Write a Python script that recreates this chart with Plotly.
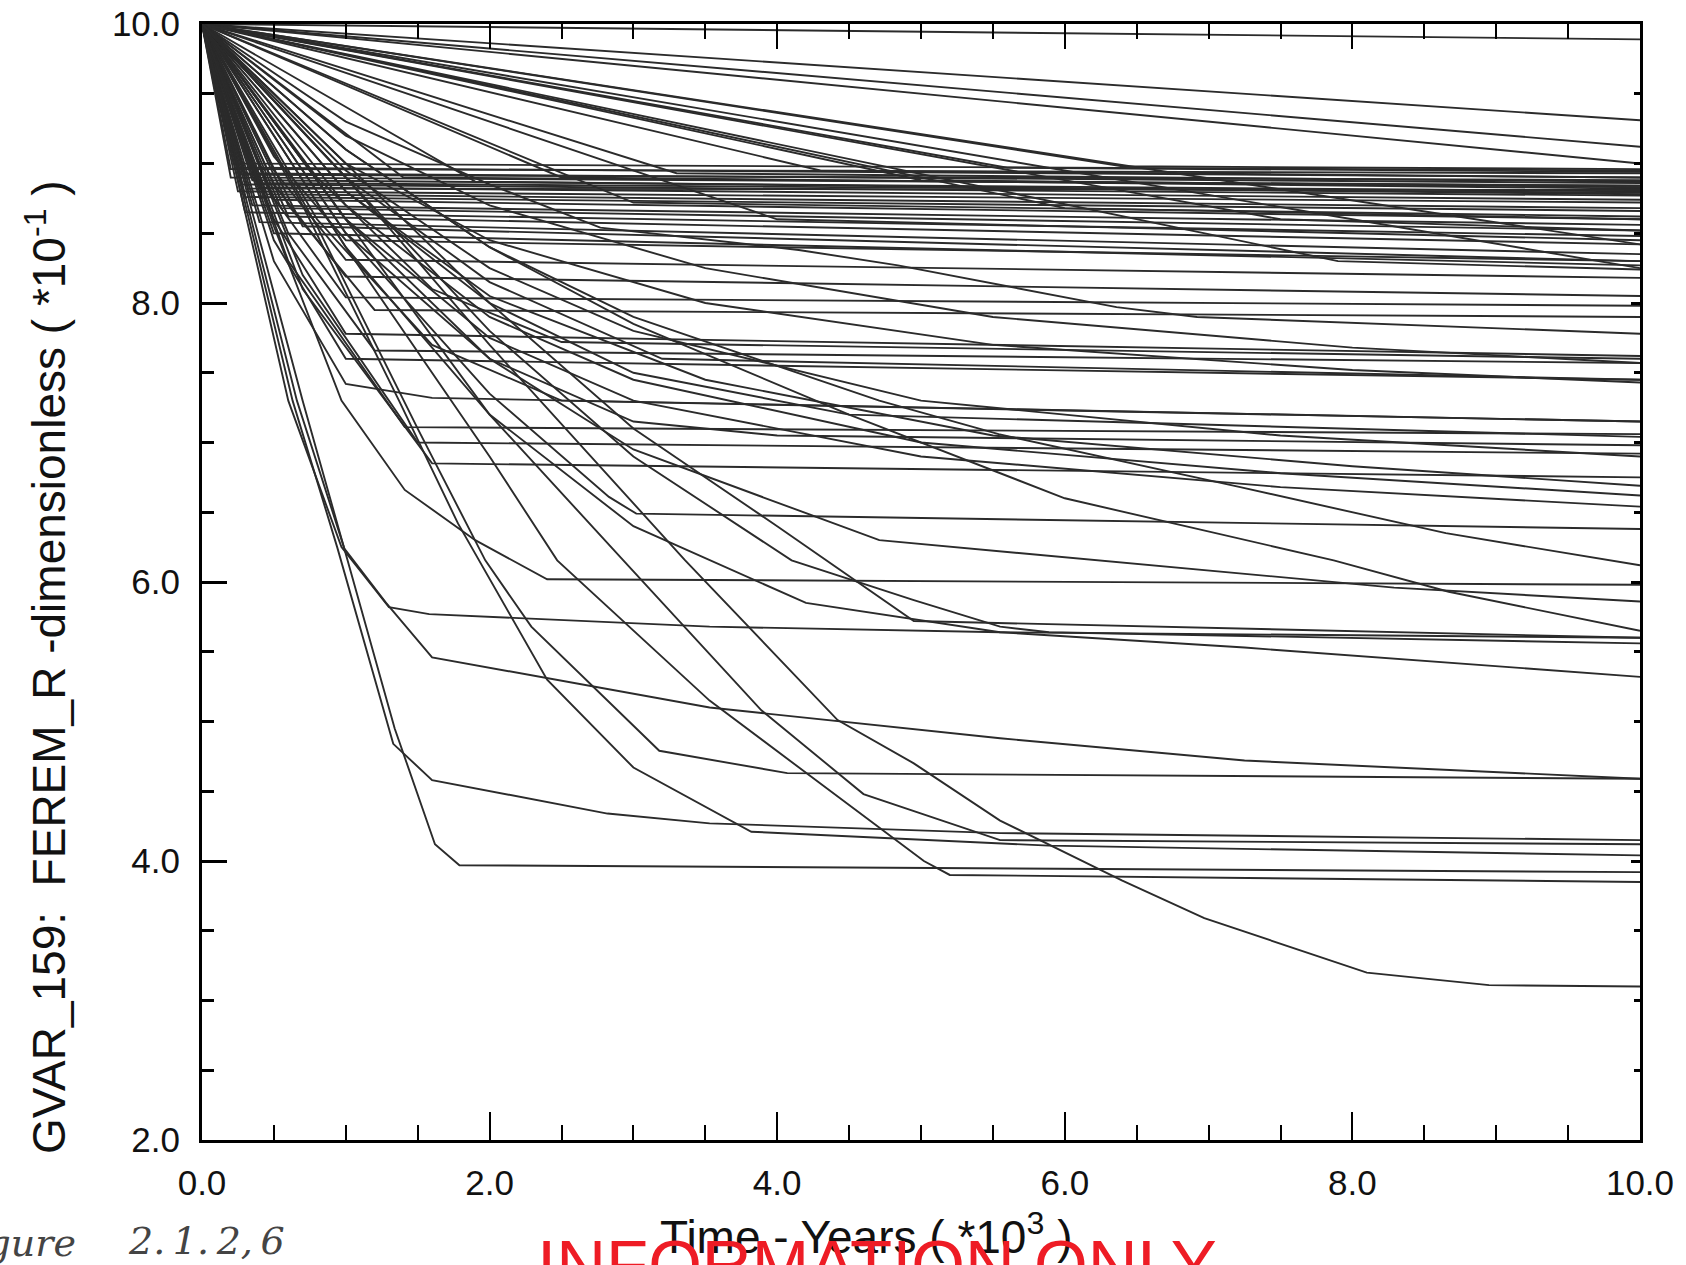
import plotly.graph_objects as go

# ---------------- data: vertices (time [1e3 yr], FEREM_R [1e-1]) ----------------
# straight fan from the origin (some level off in the 8.5-9.0 band)
fan_curves = [
    [[0, 10], [10, 9.89]],
    [[0, 10], [10, 9.31]],
    [[0, 10], [10, 9.12]],
    [[0, 10], [10, 9.0]],
    [[0, 10], [6.4, 8.98], [10, 8.96]],
    [[0, 10], [5.6, 8.97], [10, 8.94]],
    [[0, 10], [4.3, 8.95], [10, 8.9]],
    [[0, 10], [3.3, 8.93], [10, 8.87]],
    [[0, 10], [2.5, 8.9], [10, 8.82]],
    [[0, 10], [1.9, 8.87], [10, 8.78]],
    [[0, 10], [1.4, 8.9], [10, 8.84]],
    [[0, 10], [7.5, 8.6], [10, 8.52]],
    [[0, 10], [6.0, 8.68], [10, 8.6]],
    [[0, 10], [10, 8.42]],
    [[0, 10], [10, 8.25]],
    [[0, 10], [7.9, 8.3], [10, 8.24]],
    [[0, 10], [4.0, 8.6], [10, 8.45]],
    [[0, 10], [3.0, 8.72], [10, 8.62]],
    [[0, 10], [5.0, 8.88], [10, 8.83]],
]

# fast drop into the dense band near 8.5 - 9.0
band_curves = [
    [[0, 10], [0.22, 9.0], [10, 8.95]],
    [[0, 10], [0.25, 8.97], [10, 8.9]],
    [[0, 10], [0.3, 8.93], [10, 8.86]],
    [[0, 10], [0.2, 8.9], [10, 8.84]],
    [[0, 10], [0.35, 8.88], [10, 8.8]],
    [[0, 10], [0.28, 8.85], [10, 8.77]],
    [[0, 10], [0.4, 8.83], [10, 8.74]],
    [[0, 10], [0.25, 8.8], [10, 8.72]],
    [[0, 10], [0.45, 8.78], [10, 8.68]],
    [[0, 10], [0.3, 8.76], [10, 8.66]],
    [[0, 10], [0.5, 8.74], [10, 8.6]],
    [[0, 10], [0.35, 8.7], [10, 8.56]],
    [[0, 10], [0.55, 8.68], [10, 8.52]],
    [[0, 10], [0.3, 8.65], [10, 8.48]],
    [[0, 10], [0.6, 8.62], [10, 8.42]],
    [[0, 10], [0.4, 8.58], [10, 8.35]],
    [[0, 10], [0.7, 8.55], [10, 8.3]],
    [[0, 10], [0.5, 8.5], [10, 8.27]],
    [[0, 10], [0.2, 8.96], [10, 8.93]],
    [[0, 10], [0.32, 8.82], [10, 8.81]],
    [[0, 10], [0.27, 8.92], [10, 8.88]],
    [[0, 10], [0.38, 8.86], [10, 8.79]],
]

# early knee (t ~ 0.5-1.6) then slow decline
mid_curves = [
    [[0, 10], [0.5, 9.05], [1.0, 8.45], [10, 8.3]],
    [[0, 10], [0.5, 8.95], [1.0, 8.31], [10, 8.18]],
    [[0, 10], [0.5, 8.85], [1.0, 8.19], [10, 8.05]],
    [[0, 10], [0.5, 8.75], [1.0, 8.04], [10, 7.98]],
    [[0, 10], [0.6, 8.7], [1.2, 7.95], [10, 7.9]],
    [[0, 10], [0.5, 8.6], [1.0, 7.78], [10, 7.62]],
    [[0, 10], [0.6, 8.5], [1.2, 7.66], [10, 7.57]],
    [[0, 10], [0.5, 8.45], [1.0, 7.6], [10, 7.45]],
    [[0, 10], [0.5, 8.3], [1.0, 7.42], [1.6, 7.32], [10, 7.15]],
    [[0, 10], [0.6, 8.3], [1.41, 7.11], [10, 7.06]],
    [[0, 10], [0.7, 8.2], [1.5, 7.0], [10, 6.92]],
    [[0, 10], [0.7, 8.1], [1.6, 6.85], [10, 6.75]],
    [[0, 10], [0.8, 8.6], [1.6, 7.7], [2.5, 7.3], [10, 7.15]],
    [[0, 10], [1.0, 8.5], [2.0, 7.6], [3.0, 7.15], [4.0, 7.05], [10, 6.98]],
    [[0, 10], [1.0, 8.8], [2.0, 8.0], [3.0, 7.5], [4.5, 7.2], [10, 7.04]],
    [[0, 10], [1.0, 8.9], [2.0, 8.15], [3.2, 7.6], [10, 7.45]],
    [[0, 10], [0.8, 8.9], [1.6, 8.1], [2.5, 7.72], [10, 7.6]],
]

# long convex curves reaching mid levels at t = 10
slow_curves = [
    [[0, 10], [1, 9.3], [2, 8.85], [2.77, 8.54], [4.15, 8.38], [4.84, 8.27], [6.36, 7.97], [6.92, 7.9], [10, 7.78]],
    [[0, 10], [1, 9.2], [2, 8.7], [3.5, 8.25], [5.5, 7.9], [8, 7.68], [10, 7.57]],
    [[0, 10], [1, 9.0], [2, 8.45], [3.5, 8.0], [5.5, 7.7], [8, 7.52], [10, 7.43]],
    [[0, 10], [1, 8.95], [2, 8.25], [3, 7.8], [5, 7.3], [7.5, 7.05], [10, 6.9]],
    [[0, 10], [1, 8.8], [2, 8.05], [3.5, 7.45], [5.5, 7.05], [8, 6.83], [10, 6.69]],
    [[0, 10], [1, 8.7], [2, 7.9], [3, 7.45], [5, 7.0], [7.5, 6.78], [10, 6.62]],
    [[0, 10], [1, 8.6], [2, 7.75], [3, 7.3], [5, 6.9], [7.5, 6.68], [10, 6.54]],
    [[0, 10], [1, 9.1], [2, 8.4], [3, 7.9], [4.71, 7.3], [5.54, 7.06], [7.22, 6.68], [8.65, 6.35], [10, 6.12]],
    [[0, 10], [1, 8.6], [2, 7.6], [3, 6.95], [4.71, 6.3], [6.5, 6.13], [8.29, 5.96], [10, 5.86]],
    [[0, 10], [1, 9.1], [2, 8.4], [3, 7.85], [4.5, 7.2], [6, 6.6], [7.87, 6.155], [8.67, 5.93], [10, 5.65]],
    [[0, 10], [1, 8.4], [2, 7.2], [3, 6.4], [4.2, 5.85], [5.55, 5.64], [7.25, 5.53], [10, 5.32]],
    [[0, 10], [1, 8.5], [2, 7.35], [2.83, 6.61], [3.02, 6.49], [10, 6.38]],
]

# steep early drops and diagonal curves that flatten at low levels
low_curves = [
    [[0, 10], [0.7, 7.3], [1.0, 6.2], [1.34, 4.95], [1.62, 4.12], [1.79, 3.97], [10, 3.92]],
    [[0, 10], [0.63, 7.3], [0.94, 6.25], [1.33, 4.84], [1.6, 4.58], [2.82, 4.34], [3.53, 4.27], [5.55, 4.2], [10, 4.15]],
    [[0, 10], [0.6, 7.3], [0.97, 6.25], [1.3, 5.82], [1.58, 5.77], [3.53, 5.68], [5.55, 5.64], [10, 5.6]],
    [[0, 10], [0.66, 7.3], [0.99, 6.24], [1.28, 5.85], [1.6, 5.46], [3.53, 5.1], [5.55, 4.88], [7.25, 4.72], [10, 4.59]],
    [[0, 10], [0.5, 8.55], [0.97, 7.3], [1.41, 6.66], [1.9, 6.3], [2.4, 6.02], [10, 5.98]],
    [[0, 10], [0.7, 8.7], [1.37, 7.3], [1.78, 6.42], [2.4, 5.3], [3.0, 4.67], [3.82, 4.21], [5.89, 4.11], [10, 4.04]],
    [[0, 10], [0.8, 8.55], [1.5, 7.1], [1.97, 6.155], [2.29, 5.68], [3.18, 4.79], [4.07, 4.63], [10, 4.59]],
    [[0, 10], [1, 8.4], [2, 6.9], [2.47, 6.155], [3.53, 5.15], [4.24, 4.6], [5.02, 4.0], [5.2, 3.9], [10, 3.85]],
    [[0, 10], [1, 8.6], [2, 7.2], [2.93, 6.155], [3.89, 5.08], [4.6, 4.48], [5.55, 4.15], [10, 4.12]],
    [[0, 10], [1, 8.9], [2, 7.7], [3.36, 6.155], [4.42, 5.01], [4.95, 4.7], [5.55, 4.29], [6.4, 3.86],
     [6.97, 3.59], [8.1, 3.2], [8.95, 3.11], [10, 3.1]],
    [[0, 10], [1, 8.9], [2, 7.8], [3, 6.9], [4.1, 6.155], [4.95, 5.87], [5.55, 5.68], [5.89, 5.64], [10, 5.56]],
    [[0, 10], [1, 9.0], [2, 8.0], [3, 7.1], [4.0, 6.4], [4.95, 5.72], [10, 5.6]],
]

x_tick_vals = [0, 2, 4, 6, 8, 10]
x_tick_text = ["0.0", "2.0", "4.0", "6.0", "8.0", "10.0"]
y_tick_vals = [2, 4, 6, 8, 10]
y_tick_text = ["2.0", "4.0", "6.0", "8.0", "10.0"]

# ---------------- figure ----------------
W, H = 1686, 1265
ML, MR, MT, MB = 202, 46, 24, 125
PW, PH = W - ML - MR, H - MT - MB

LINE_COLOR = "#2b2b2b"
fig = go.Figure()
for group in (fan_curves, band_curves, mid_curves, slow_curves, low_curves):
    for curve in group:
        fig.add_trace(go.Scatter(
            x=[p[0] for p in curve], y=[p[1] for p in curve],
            mode="lines", line=dict(color=LINE_COLOR, width=1.9),
            showlegend=False, hoverinfo="skip"))

# helper trace so the mirrored (top / right) axes are drawn
fig.add_trace(go.Scatter(x=[0], y=[10], xaxis="x2", yaxis="y2", mode="markers",
                         marker=dict(opacity=0), showlegend=False, hoverinfo="skip"))

TICK_FONT = dict(family="Liberation Sans, Arial, sans-serif", size=35, color="#111")
minor_x = dict(ticks="inside", ticklen=15, tickwidth=2, tickcolor="black", dtick=0.5, tick0=0)
minor_y = dict(ticks="inside", ticklen=12, tickwidth=2.5, tickcolor="black", dtick=0.5, tick0=0)

fig.update_layout(
    width=W, height=H,
    margin=dict(l=ML, r=MR, t=MT, b=MB, autoexpand=False),
    paper_bgcolor="white", plot_bgcolor="white",
    xaxis=dict(range=[0, 10], tickvals=x_tick_vals, ticktext=x_tick_text,
               ticks="inside", ticklen=28, tickwidth=2, tickcolor="black",
               minor=minor_x, showgrid=False, zeroline=False,
               showline=True, linecolor="black", linewidth=3,
               tickfont=TICK_FONT, ticklabelstandoff=10),
    yaxis=dict(range=[2, 10], tickvals=y_tick_vals, ticktext=y_tick_text,
               ticks="inside", ticklen=25, tickwidth=2.5, tickcolor="black",
               minor=minor_y, showgrid=False, zeroline=False,
               showline=True, linecolor="black", linewidth=3,
               tickfont=TICK_FONT, ticklabelstandoff=12),
    xaxis2=dict(range=[0, 10], overlaying="x", side="top", tickvals=[2, 4, 6, 8],
                ticks="inside", ticklen=25, tickwidth=2, tickcolor="black",
                minor=dict(ticks="inside", ticklen=15, tickwidth=2, tickcolor="black", dtick=0.5, tick0=0),
                showticklabels=False, showgrid=False, zeroline=False,
                showline=True, linecolor="black", linewidth=3),
    yaxis2=dict(range=[2, 10], overlaying="y", side="right", tickvals=y_tick_vals,
                ticks="inside", ticklen=9, tickwidth=3, tickcolor="black",
                minor=dict(ticks="inside", ticklen=6, tickwidth=2.5, tickcolor="black", dtick=0.5, tick0=0),
                showticklabels=False, showgrid=False, zeroline=False,
                showline=True, linecolor="black", linewidth=3),
)

def px_to_paper(x, y):
    return (x - ML) / PW, 1 - (y - MT) / PH

TITLE_FONT = dict(family="Liberation Sans, Arial, sans-serif", size=46, color="#111")
annots = []
ax, ay = px_to_paper(46, 667)
annots.append(dict(text="GVAR_159:\u00a0\u00a0FEREM_R -dimensionless ( *10<sup>-1</sup> )",
                   x=ax, y=ay, xref="paper", yref="paper", textangle=-90,
                   showarrow=False, font=TITLE_FONT, xanchor="center", yanchor="middle"))
ax, ay = px_to_paper(866, 1234)
annots.append(dict(text="Time - Years ( *10<sup>3</sup> )", x=ax, y=ay, xref="paper", yref="paper",
                   showarrow=False, font=TITLE_FONT, xanchor="center", yanchor="middle"))
ax, ay = px_to_paper(877, 1224)
annots.append(dict(text="INFORMATION ONLY", x=ax, y=ay, xref="paper", yref="paper",
                   showarrow=False, xanchor="center", yanchor="top",
                   font=dict(family="Liberation Sans, Arial, sans-serif", size=69, color="#ee1c25")))
ax, ay = px_to_paper(78, 1243)
annots.append(dict(text="<i>Figure</i>", x=ax, y=ay, xref="paper", yref="paper",
                   showarrow=False, xanchor="right", yanchor="middle",
                   font=dict(family="DejaVu Serif, serif", size=38, color="#444")))
ax, ay = px_to_paper(206, 1241)
annots.append(dict(text="<i>2.\u20091.\u20092,\u20096</i>", x=ax, y=ay, xref="paper", yref="paper",
                   showarrow=False, xanchor="center", yanchor="middle",
                   font=dict(family="DejaVu Serif, serif", size=38, color="#444")))
fig.update_layout(annotations=annots)

fig.write_html("out.html")
